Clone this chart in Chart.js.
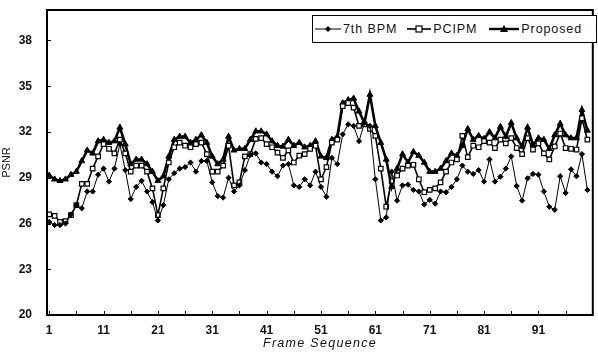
<!DOCTYPE html>
<html>
<head>
<meta charset="utf-8">
<script src="https://cdn.jsdelivr.net/npm/chart.js@4.4.1/dist/chart.umd.min.js"></script>
<style>
  html, body { margin: 0; padding: 0; background: #fff; }
  #wrap { position: relative; width: 598px; height: 354px; }
  #legend {
    position: absolute; left: 312px; top: 15px; width: 283px; height: 26px;
    border: 1px solid #000; background: #fff; display: flex; align-items: center;
    font-family: "Liberation Sans", Arial, sans-serif; font-size: 12.5px; letter-spacing: 0.9px; color: #111;
  }
  .item { display: flex; align-items: center; margin-left: 3px; }
  .item svg { margin-right: 2px; }
  #xtitle {
    position: absolute; left: 220px; width: 200px; top: 336px; text-align: center;
    font-family: "Liberation Sans", Arial, sans-serif; font-size: 12.5px; font-style: italic;
    letter-spacing: 1.3px; color: #111;
  }
</style>
</head>
<body>
<div id="wrap">
  <canvas id="c" width="598" height="354"></canvas>
  <div id="legend"></div>
  <div id="xtitle">Frame Sequence</div>
</div>
<script>
const seriesNames = ["7th BPM", "PCIPM", "Proposed"];
const xTickLabels = [1, 11, 21, 31, 41, 51, 61, 71, 81, 91];
const yTickLabels = [20, 23, 26, 29, 32, 35, 38];
const frames = Array.from({length: 100}, (_, i) => i + 1);

const bpm7 = [
  26.1, 25.9, 25.9, 26.0, 26.6, 27.2, 27.0, 28.1, 28.1, 29.2,
  29.6, 28.75, 29.6, 31.2, 29.5, 27.6, 28.4, 28.8, 28.1, 27.4,
  26.2, 27.2, 28.9, 29.3, 29.6, 29.7, 30.0, 29.4, 30.1, 30.1,
  28.7, 27.8, 27.7, 29.0, 28.1, 28.5, 29.5, 30.5, 30.6, 30.0,
  29.9, 29.4, 29.1, 29.8, 29.9, 28.5, 28.4, 28.9, 28.5, 29.4,
  28.4, 27.75, 30.3, 29.9, 31.85, 32.5, 32.4, 31.4, 32.6, 32.4,
  28.9, 26.2, 26.4, 29.4, 27.5, 28.5, 28.55, 28.2, 28.1, 27.25,
  27.55, 27.3, 28.1, 28.05, 28.4, 28.9, 29.8, 29.4, 29.25, 29.5,
  28.75, 30.2, 28.75, 29.07, 29.6, 30.4, 28.46, 27.5, 28.96, 29.25,
  29.2, 28.1, 27.1, 26.9, 29.1, 28.0, 29.55, 29.1, 30.55, 28.2
];
const pcipm = [
  26.6, 26.5, 26.1, 26.15, 26.55, 27.2, 28.6, 28.6, 29.6, 30.4,
  31.2, 30.9, 30.6, 31.5, 30.6, 29.4, 29.8, 29.8, 29.4, 28.3,
  26.55, 28.3, 30.0, 31.0, 31.3, 31.1, 31.0, 31.2, 31.3, 30.55,
  29.4, 29.4, 29.8, 31.1, 28.5, 28.7, 30.4, 30.55, 31.55, 31.6,
  31.2, 31.0, 30.65, 30.3, 30.8, 30.0, 30.45, 30.55, 30.9, 31.1,
  28.9, 29.7, 31.3, 31.5, 33.7, 33.9, 33.6, 32.4, 32.5, 32.2,
  31.75, 29.6, 27.1, 28.8, 29.15, 29.6, 29.8, 29.85, 28.9, 28.05,
  28.2, 28.3, 28.7, 29.4, 30.0, 30.2, 31.75, 30.35, 31.1, 31.0,
  31.4, 31.3, 30.95, 31.5, 31.25, 31.6, 30.95, 30.55, 31.6, 30.85,
  31.25, 30.6, 30.2, 31.05, 31.9, 30.95, 30.9, 30.85, 32.9, 31.5
];
const proposed = [
  29.15, 28.9, 28.8, 28.9, 29.2, 29.4, 30.1, 30.8, 30.6, 31.4,
  31.5, 31.3, 31.4, 32.3, 31.2, 29.9, 30.2, 30.2, 29.9, 29.4,
  28.8, 29.1, 30.4, 31.5, 31.7, 31.7, 31.3, 31.5, 31.8, 31.3,
  30.4, 29.9, 30.2, 31.7, 30.8, 30.9, 30.9, 31.5, 32.05, 32.05,
  31.85, 31.4, 31.1, 31.05, 31.5, 31.1, 31.3, 31.0, 31.1, 31.4,
  30.4, 30.3, 31.5, 31.7, 33.9, 34.1, 34.2, 33.35, 32.6, 34.45,
  32.4, 31.3, 30.2, 28.4, 29.6, 30.55, 30.0, 30.7, 30.45, 30.0,
  29.4, 29.4, 29.6, 30.1, 30.6, 30.45, 31.1, 32.2, 31.5, 31.75,
  31.55, 32.0, 31.6, 32.35, 31.7, 32.6, 31.6, 31.05, 32.3, 31.15,
  31.6, 31.5, 30.9, 31.8, 32.55, 31.8, 31.6, 31.6, 33.45, 32.1
];

const toPts = arr => arr.map((v, i) => ({x: frames[i], y: v}));
const FONT = '"Liberation Sans", Arial, sans-serif';

const styles = [
  {line: 1, pStyle: 'rectRot', r: 2.6, fill: '#000', bw: 1},
  {line: 1.6, pStyle: 'rect', r: 3.2, fill: '#fff', bw: 1.2},
  {line: 2.6, pStyle: 'triangle', r: 3.4, fill: '#000', bw: 1}
];
const dataSets = [bpm7, pcipm, proposed];

const frameBox = {
  id: 'frameBox',
  afterDraw(chart) {
    const {ctx, chartArea: a, scales} = chart;
    ctx.save();
    ctx.strokeStyle = '#000';
    ctx.lineWidth = 1;
    ctx.beginPath();
    scales.x.ticks.forEach(t => {
      const px = Math.round(scales.x.getPixelForValue(t.value)) + 0.5;
      ctx.moveTo(px, a.bottom); ctx.lineTo(px, a.bottom - 4);
    });
    scales.y.ticks.forEach(t => {
      const py = Math.round(scales.y.getPixelForValue(t.value)) + 0.5;
      ctx.moveTo(a.left, py); ctx.lineTo(a.left + 4, py);
    });
    ctx.stroke();
    ctx.lineWidth = 2;
    ctx.strokeRect(a.left, a.top, a.right - a.left, a.bottom - a.top);
    ctx.restore();
  }
};

new Chart(document.getElementById('c'), {
  type: 'line',
  data: {
    datasets: dataSets.map((d, i) => ({
      label: seriesNames[i],
      data: toPts(d),
      borderColor: '#000',
      borderWidth: styles[i].line,
      pointStyle: styles[i].pStyle,
      pointRadius: styles[i].r,
      pointBackgroundColor: styles[i].fill,
      pointBorderColor: '#000',
      pointBorderWidth: styles[i].bw,
      tension: 0,
      fill: false
    }))
  },
  options: {
    responsive: false,
    animation: false,
    devicePixelRatio: 1,
    layout: {padding: {top: 10, right: 1, left: 0, bottom: 0}},
    plugins: {legend: {display: false}, tooltip: {enabled: false}},
    scales: {
      x: {
        type: 'linear',
        min: 0.6,
        max: 101,
        grid: {display: false, drawTicks: false},
        border: {display: false},
        afterFit: s => { s.height = 39; s.paddingLeft = 0; s.paddingRight = 0; },
        afterBuildTicks: s => {
          const t = [];
          xTickLabels.forEach(v => { t.push({value: v}); t.push({value: v + 5}); });
          s.ticks = t;
        },
        ticks: {
          autoSkip: false, maxRotation: 0, padding: 8, color: '#111',
          font: {family: FONT, size: 12, weight: 'bold'},
          callback: v => xTickLabels.includes(v) ? String(v) : ''
        },
        title: {display: false}
      },
      y: {
        min: 20,
        max: 40,
        grid: {display: false, drawTicks: false},
        border: {display: false},
        afterFit: s => { s.width = 47; s.paddingTop = 0; s.paddingBottom = 0; },
        afterBuildTicks: s => { s.ticks = yTickLabels.map(v => ({value: v})); },
        ticks: {
          padding: 15, color: '#111',
          font: {family: FONT, size: 12, weight: 'bold'}
        },
        title: {
          display: true, text: 'PSNR', color: '#111',
          font: {family: FONT, size: 11},
          padding: {top: 0, bottom: 0}
        }
      }
    }
  },
  plugins: [frameBox]
});

// HTML legend
const leg = document.getElementById('legend');
const symbols = [
  '<svg width="26" height="10"><line x1="0" y1="5" x2="26" y2="5" stroke="#000" stroke-width="1"/><path d="M13 2 L16 5 L13 8 L10 5 Z" fill="#000"/></svg>',
  '<svg width="24" height="10"><line x1="0" y1="5" x2="24" y2="5" stroke="#000" stroke-width="1.6"/><rect x="9" y="2" width="6" height="6" fill="#fff" stroke="#000" stroke-width="1.2"/></svg>',
  '<svg width="30" height="10"><line x1="0" y1="5" x2="30" y2="5" stroke="#000" stroke-width="2.4"/><path d="M15 1 L19 8 L11 8 Z" fill="#000"/></svg>'
];
const gaps = [2, 10, 12];
seriesNames.forEach((n, i) => {
  const el = document.createElement('div');
  el.className = 'item';
  el.style.marginLeft = gaps[i] + 'px';
  el.innerHTML = symbols[i] + '<span>' + n + '</span>';
  leg.appendChild(el);
});
</script>
</body>
</html>
